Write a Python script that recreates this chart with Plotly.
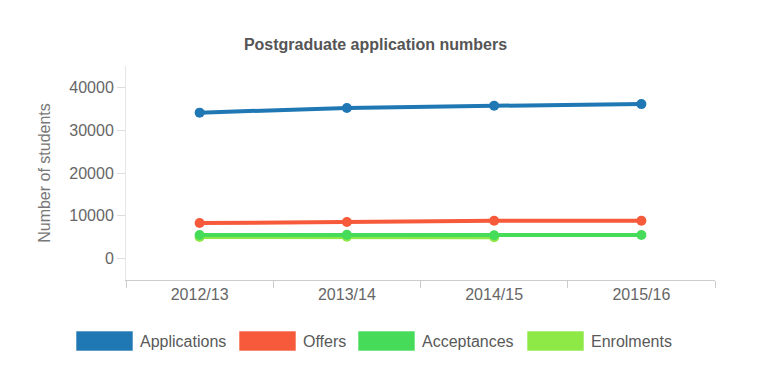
import plotly.graph_objects as go

# ---- data ----
years = ["2012/13", "2013/14", "2014/15", "2015/16"]
applications = [34100, 35200, 35700, 36100]
offers = [8300, 8550, 8850, 8850]
acceptances = [5500, 5550, 5450, 5500]
enrolments = [5050, 5100, 5000, None]

series_names = ["Applications", "Offers", "Acceptances", "Enrolments"]
series_values = [applications, offers, acceptances, enrolments]
colors = ["#1f77b4", "#f65a3a", "#46dc5a", "#8ee846"]

W, H = 757, 390
ML, MR, MT, MB = 126, 42, 66, 110
PW, PH = W - ML - MR, H - MT - MB

fig = go.Figure()
draw_order = [0, 1, 3, 2]
for i in draw_order:
    fig.add_trace(go.Scatter(
        x=years, y=series_values[i], name=series_names[i], mode="lines+markers",
        line=dict(color=colors[i], width=4),
        marker=dict(color=colors[i], size=10),
        showlegend=False, connectgaps=False,
    ))

# ---- manual legend (wide rectangular swatches) ----
sw_x = [76, 239, 358, 527]
sw_w, sw_y0, sw_y1 = 57, 331, 351
shapes = []
annotations = []
for i, name in enumerate(series_names):
    x0 = (sw_x[i] - ML) / PW
    x1 = (sw_x[i] + sw_w - ML) / PW
    y0 = (MT + PH - sw_y1) / PH
    y1 = (MT + PH - sw_y0) / PH
    shapes.append(dict(type="rect", xref="paper", yref="paper", x0=x0, x1=x1, y0=y0, y1=y1,
                       fillcolor=colors[i], line=dict(width=1, color="rgba(255,255,255,0.6)"),
                       layer="above"))
    annotations.append(dict(xref="paper", yref="paper", x=(sw_x[i] + sw_w + 5 - ML) / PW,
                            y=(MT + PH - (sw_y0 + sw_y1) / 2) / PH, text=name, showarrow=False,
                            xanchor="left", yanchor="middle",
                            font=dict(size=16, color="#595959")))

fig.update_layout(
    width=W, height=H,
    margin=dict(l=ML, r=MR, t=MT, b=MB),
    paper_bgcolor="white", plot_bgcolor="white",
    font=dict(family="Liberation Sans, Arial, sans-serif", color="#666666"),
    title=dict(text="<b>Postgraduate application numbers</b>", x=0.496, xanchor="center",
               y=1 - 44 / H, yanchor="middle", font=dict(size=16, color="#555555")),
    showlegend=False,
    shapes=shapes,
    annotations=annotations,
    xaxis=dict(type="category", range=[-0.5, 3.5], tickson="boundaries",
               ticks="outside", ticklen=7, tickcolor="#cccccc",
               showline=True, linecolor="#cccccc", linewidth=1,
               showgrid=False, zeroline=False,
               tickfont=dict(size=16, color="#666666")),
    yaxis=dict(range=[-5000, 45000], tickvals=[0, 10000, 20000, 30000, 40000],
               ticktext=["0", "10000", "20000", "30000", "40000"],
               ticks="outside", ticklen=8, tickcolor="#dddddd",
               showline=True, linecolor="#e6e6e6", linewidth=1,
               showgrid=False, zeroline=False,
               tickfont=dict(size=16, color="#666666"),
               title=dict(text="Number of students", font=dict(size=16, color="#777777"),
                          standoff=14)),
)

fig.write_html("out.html", config={"displayModeBar": False},
               post_script="document.body.style.margin='0';")
